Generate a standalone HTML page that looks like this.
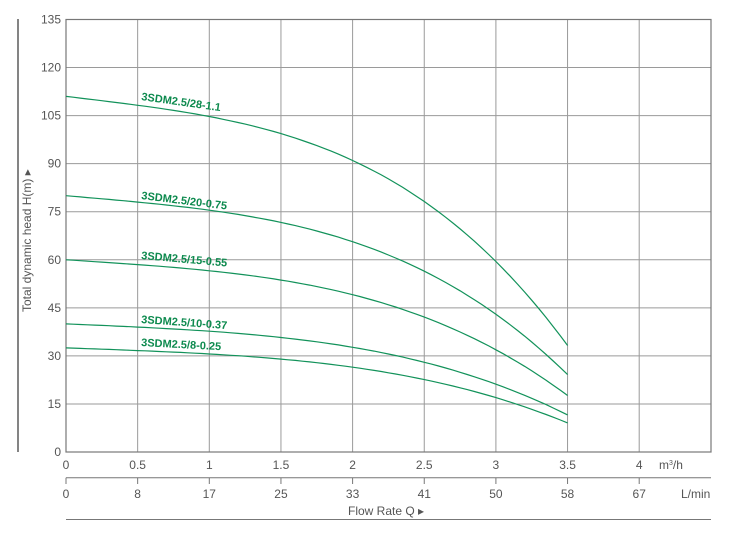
<!DOCTYPE html>
<html><head><meta charset="utf-8"><style>
html,body{margin:0;padding:0;background:#fff;}
svg text{font-family:"Liberation Sans",sans-serif;}
</style></head><body>
<svg id="s" width="744" height="532" viewBox="0 0 744 532" xmlns="http://www.w3.org/2000/svg">
<g id="grid" stroke="#9a9a9a" stroke-width="1"></g>
<rect x="66" y="19.5" width="645" height="432.5" fill="none" stroke="#777" stroke-width="1.2"/>
<line x1="18" y1="19" x2="18" y2="452" stroke="#333" stroke-width="1.2"/>
<line x1="66" y1="477.7" x2="711" y2="477.7" stroke="#777" stroke-width="1"/>
<line x1="66" y1="519.5" x2="711" y2="519.5" stroke="#777" stroke-width="1"/>
<g id="lab" font-size="12" fill="#555"></g>
<g id="curves" fill="none" stroke="#12925a" stroke-width="1.2"></g>
<g font-size="11" font-weight="bold" fill="#0d8a4e">
<text transform="translate(141,100) rotate(8)">3SDM2.5/28-1.1</text>
<text transform="translate(141,199) rotate(7)">3SDM2.5/20-0.75</text>
<text transform="translate(141,259) rotate(5)">3SDM2.5/15-0.55</text>
<text transform="translate(141,323) rotate(4)">3SDM2.5/10-0.37</text>
<text transform="translate(141,346) rotate(3)">3SDM2.5/8-0.25</text>
</g>
<text x="659" y="469" font-size="12" fill="#555">m<tspan font-size="7" dy="-4">3</tspan><tspan dy="4">/h</tspan></text>
<text x="681" y="498" font-size="12" fill="#555">L/min</text>
<text x="348" y="515" font-size="12" fill="#555">Flow Rate Q  ▸</text>
<text transform="translate(31,312) rotate(-90)" font-size="12" fill="#555">Total dynamic head H(m)  ▸</text>
</svg>
<script>
var X=function(q){return 66+q*143.3},Y=function(h){return 452-h*(432.5/135)};
var g=document.getElementById('grid'),l=document.getElementById('lab'),ns='http://www.w3.org/2000/svg';
function el(p,t,a,txt){var e=document.createElementNS(ns,t);for(var k in a)e.setAttribute(k,a[k]);if(txt!==undefined)e.textContent=txt;p.appendChild(e);return e;}
for(var i=1;i<9;i++)el(g,'line',{x1:X(i*0.5),y1:19.5,x2:X(i*0.5),y2:452});
for(var j=1;j<9;j++)el(g,'line',{x1:66,y1:Y(j*15),x2:711,y2:Y(j*15)});
var xl=['0','0.5','1','1.5','2','2.5','3','3.5','4'],ll=['0','8','17','25','33','41','50','58','67'];
for(i=0;i<9;i++){el(l,'text',{x:X(i*0.5),y:469,'text-anchor':'middle'},xl[i]);el(l,'text',{x:X(i*0.5),y:498,'text-anchor':'middle'},ll[i]);el(g,'line',{x1:X(i*0.5),y1:477.7,x2:X(i*0.5),y2:484,stroke:'#777'});}
for(j=0;j<=9;j++)el(l,'text',{x:61,y:Y(j*15)+4,'text-anchor':'end'},String(j*15));
var C=[[111,33],[80,24],[60,17.5],[40,11.5],[32.5,9]];
var c=document.getElementById('curves');
C.forEach(function(v){var d='';for(var k=0;k<=70;k++){var q=k*0.05;var f=0.0685*q+0.01213*Math.pow(q,3.3);var h=v[0]-(v[0]-v[1])*f;d+=(k?' L':'M')+X(q).toFixed(1)+','+Y(h).toFixed(1);}
el(c,'path',{d:d});});
</script>
</body></html>
